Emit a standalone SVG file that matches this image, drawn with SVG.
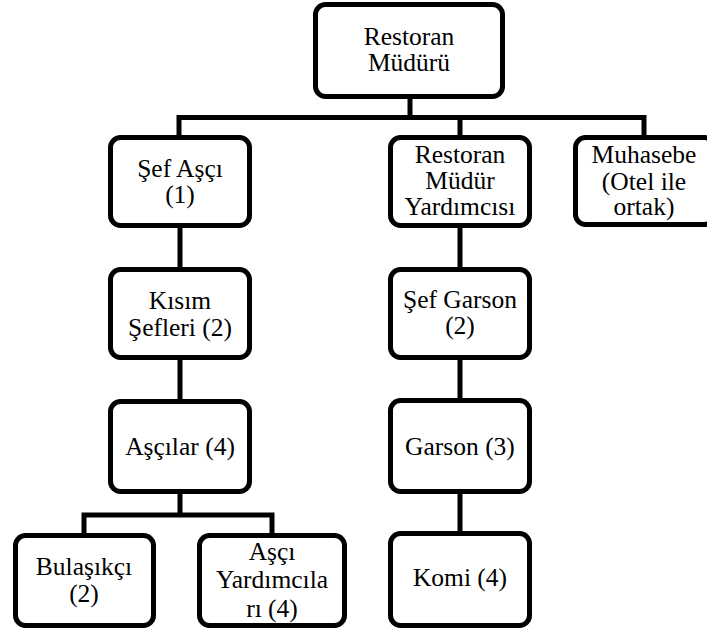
<svg xmlns="http://www.w3.org/2000/svg" width="707" height="631" viewBox="0 0 707 631">
<style>
.box{fill:#fff;stroke:#000;stroke-width:5}
.ln{fill:none;stroke:#000;stroke-width:5;stroke-linecap:square}
.t{font-size:25.5px;fill:#000;text-anchor:middle}
</style>
<rect width="707" height="631" fill="#fff"/>
<g id="connectors">
<path class="ln" d="M410 99V117.5M179 117.5H644M179 117.5V135M460 117.5V135M644 117.5V135"/>
<path class="ln" d="M180 228V267M460 228V267"/>
<path class="ln" d="M180 360V399M460 360V399"/>
<path class="ln" d="M180 494V515M84 515H272M84 515V533M272 515V533M460 494V531"/>
</g>
<g font-family="'Liberation Serif', 'Times New Roman', 'DejaVu Serif', serif">
<g id="restoran-muduru">
<rect class="box" x="315.5" y="4.5" width="187" height="92" rx="10"/>
<text class="t" x="409" y="45">Restoran</text>
<text class="t" x="409" y="71">Müdürü</text>
</g>
<g id="sef-asci">
<rect class="box" x="110.5" y="137.5" width="139" height="88" rx="10"/>
<text class="t" x="180" y="177">Şef Aşçı</text>
<text class="t" x="180" y="203">(1)</text>
</g>
<g id="restoran-mudur-yardimcisi">
<rect class="box" x="390.5" y="137.5" width="139" height="88" rx="10"/>
<text class="t" x="460" y="163">Restoran</text>
<text class="t" x="460" y="189">Müdür</text>
<text class="t" x="460" y="215">Yardımcısı</text>
</g>
<g id="muhasebe">
<rect class="box" x="575.5" y="137.5" width="139" height="87" rx="10"/>
<text class="t" x="644" y="163">Muhasebe</text>
<text class="t" x="644" y="190">(Otel ile</text>
<text class="t" x="644" y="215">ortak)</text>
</g>
<g id="kisim-sefleri">
<rect class="box" x="110.5" y="269.5" width="139" height="88" rx="10"/>
<text class="t" x="180" y="309">Kısım</text>
<text class="t" x="180" y="336">Şefleri (2)</text>
</g>
<g id="sef-garson">
<rect class="box" x="390.5" y="269.5" width="139" height="88" rx="10"/>
<text class="t" x="460" y="308">Şef Garson</text>
<text class="t" x="460" y="334">(2)</text>
</g>
<g id="ascilar">
<rect class="box" x="110.5" y="401.5" width="139" height="90" rx="10"/>
<text class="t" x="180" y="455">Aşçılar (4)</text>
</g>
<g id="garson">
<rect class="box" x="390.5" y="400.5" width="139" height="91" rx="10"/>
<text class="t" x="460" y="455">Garson (3)</text>
</g>
<g id="bulasikci">
<rect class="box" x="15.5" y="535.5" width="138" height="90" rx="10"/>
<text class="t" x="84" y="575">Bulaşıkçı</text>
<text class="t" x="84" y="602">(2)</text>
</g>
<g id="asci-yardimcilari">
<rect class="box" x="199.5" y="535.5" width="145" height="90" rx="10"/>
<text class="t" x="272" y="560">Aşçı</text>
<text class="t" x="272" y="588">Yardımcıla</text>
<text class="t" x="272" y="617">rı (4)</text>
</g>
<g id="komi">
<rect class="box" x="390.5" y="533.5" width="139" height="92" rx="10"/>
<text class="t" x="460" y="586">Komi (4)</text>
</g>
</g>
</svg>
